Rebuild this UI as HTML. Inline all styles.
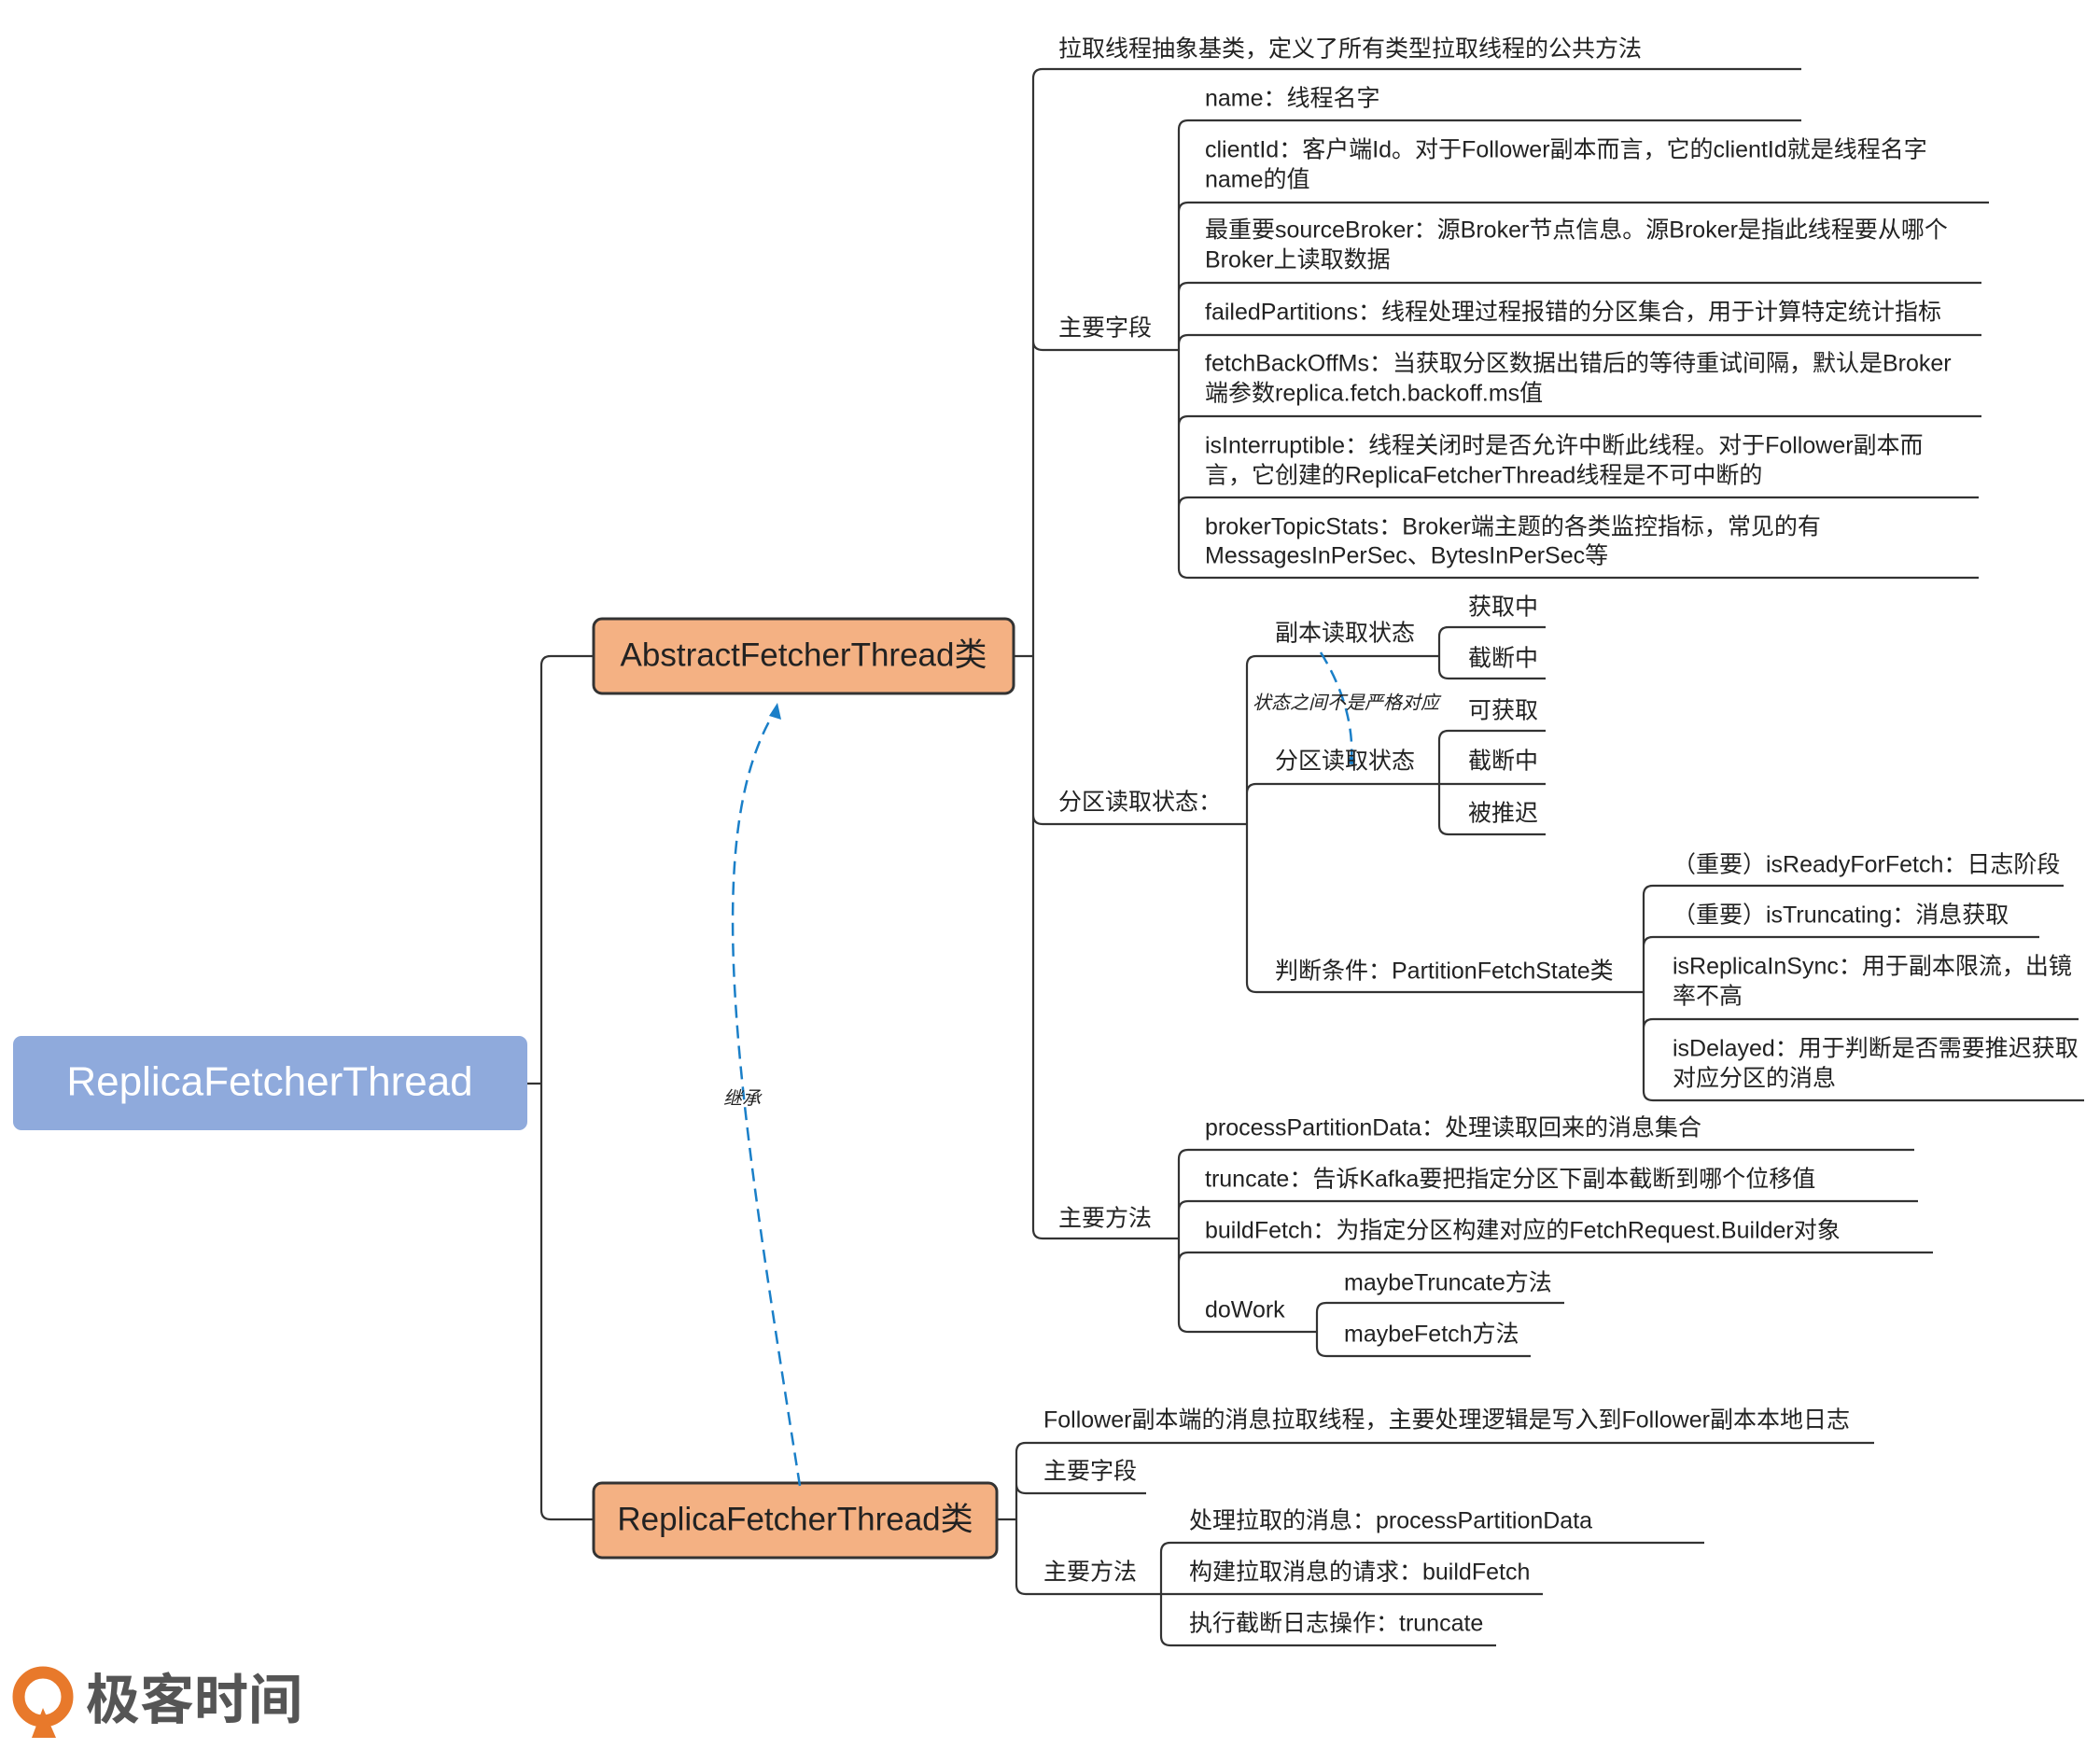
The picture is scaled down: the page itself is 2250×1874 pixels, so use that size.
<!DOCTYPE html>
<html><head><meta charset="utf-8">
<style>
html,body{margin:0;padding:0;background:#fff;}
svg{display:block;}
text{font-family:"Liberation Sans","Noto Sans CJK SC",sans-serif;font-size:25px;fill:#222;dominant-baseline:middle;}
</style></head>
<body>
<svg width="2250" height="1874" viewBox="0 0 2250 1874" xmlns="http://www.w3.org/2000/svg">
<g transform="translate(-5,-1)">
<g fill="none" stroke="#333" stroke-width="2.2">
<path d="M570 1162 H585 M595 704 H640 M595 1629 H640 M585 1162 V714 Q585 704 595 704 M585 1162 V1619 Q585 1629 595 1629"/>
<path d="M1092 704 H1112 M1112 85 V1318 M1112 85 Q1112 75 1122 75 H1935 M1112 366 Q1112 376 1122 376 H1268 M1112 874 Q1112 884 1122 884 H1341 M1112 1318 Q1112 1328 1122 1328 H1268"/>
<path d="M1268 140 V610 M1268 140 Q1268 130 1278 130 H1935 M1268 228 Q1268 218 1278 218 H2136 M1268 314 Q1268 304 1278 304 H2128 M1268 370 Q1268 360 1278 360 H2128 M1268 457 Q1268 447 1278 447 H2128 M1268 544 Q1268 534 1278 534 H2125 M1268 610 Q1268 620 1278 620 H2125"/>
<path d="M1341 714 V1054 M1341 714 Q1341 704 1351 704 H1547 M1341 851 Q1341 841 1351 841 H1547 M1341 1054 Q1341 1064 1351 1064 H1766"/>
<path d="M1547 683 V718 M1547 683 Q1547 673 1557 673 H1661 M1547 718 Q1547 728 1557 728 H1661"/>
<path d="M1547 794 V885 M1547 794 Q1547 784 1557 784 H1661 M1547 841 H1661 M1547 885 Q1547 895 1557 895 H1661"/>
<path d="M1766 960 V1170 M1766 960 Q1766 950 1776 950 H2216 M1766 1015 Q1766 1005 1776 1005 H2190 M1766 1103 Q1766 1093 1776 1093 H2232 M1766 1170 Q1766 1180 1776 1180 H2238"/>
<path d="M1268 1243 V1418 M1268 1243 Q1268 1233 1278 1233 H2056 M1268 1298 Q1268 1288 1278 1288 H2060 M1268 1353 Q1268 1343 1278 1343 H2076 M1268 1418 Q1268 1428 1278 1428 H1416"/>
<path d="M1416 1407 V1444 M1416 1407 Q1416 1397 1426 1397 H1681 M1416 1444 Q1416 1454 1426 1454 H1645"/>
<path d="M1074 1629 H1094 M1094 1557 V1699 M1094 1557 Q1094 1547 1104 1547 H2013 M1094 1591 Q1094 1601 1104 1601 H1233 M1094 1699 Q1094 1709 1104 1709 H1249"/>
<path d="M1249 1664 V1754 M1249 1664 Q1249 1654 1259 1654 H1831 M1249 1709 H1658 M1249 1754 Q1249 1764 1259 1764 H1608"/>
</g>
<rect x="19" y="1111" width="551" height="101" rx="9" fill="#8faadc"/>
<text x="294" y="1163" text-anchor="middle" style="font-size:44px;fill:#fff">ReplicaFetcherThread</text>
<rect x="641" y="664" width="450" height="80" rx="9" fill="#f4b183" stroke="#333" stroke-width="3"/>
<text x="866" y="705" text-anchor="middle" style="font-size:35px">AbstractFetcherThread类</text>
<rect x="641" y="1590" width="432" height="80" rx="9" fill="#f4b183" stroke="#333" stroke-width="3"/>
<text x="857" y="1631" text-anchor="middle" style="font-size:35px">ReplicaFetcherThread类</text>
<g fill="none" stroke="#1a7fc8" stroke-width="2.5" stroke-dasharray="14 8">
<path d="M862 1593 C800 1200 750 900 836 762"/>
<path d="M1420 700 C1445 740 1455 780 1453 814"/>
</g>
<path d="M838 754 L842 772 L829 768 Z" fill="#1a7fc8"/>
<circle cx="1453" cy="816" r="4" fill="#1a7fc8"/>
<text x="800" y="1179" text-anchor="middle" style="font-size:20px;font-style:italic">继承</text>
<text x="1347" y="755" style="font-size:20px;font-style:italic">状态之间不是严格对应</text>
<text x="1139" y="55">拉取线程抽象基类，定义了所有类型拉取线程的公共方法</text>
<text x="1139" y="354">主要字段</text>
<text x="1296" y="108">name：线程名字</text>
<text x="1296" y="163">clientId：客户端Id。对于Follower副本而言，它的clientId就是线程名字</text>
<text x="1296" y="195">name的值</text>
<text x="1296" y="249">最重要sourceBroker：源Broker节点信息。源Broker是指此线程要从哪个</text>
<text x="1296" y="281">Broker上读取数据</text>
<text x="1296" y="337">failedPartitions：线程处理过程报错的分区集合，用于计算特定统计指标</text>
<text x="1296" y="392">fetchBackOffMs：当获取分区数据出错后的等待重试间隔，默认是Broker</text>
<text x="1296" y="424">端参数replica.fetch.backoff.ms值</text>
<text x="1296" y="480">isInterruptible：线程关闭时是否允许中断此线程。对于Follower副本而</text>
<text x="1296" y="512">言，它创建的ReplicaFetcherThread线程是不可中断的</text>
<text x="1296" y="567">brokerTopicStats：Broker端主题的各类监控指标，常见的有</text>
<text x="1296" y="598">MessagesInPerSec、BytesInPerSec等</text>
<text x="1139" y="862">分区读取状态：</text>
<text x="1371" y="681">副本读取状态</text>
<text x="1578" y="653">获取中</text>
<text x="1578" y="708">截断中</text>
<text x="1371" y="818">分区读取状态</text>
<text x="1578" y="764">可获取</text>
<text x="1578" y="818">截断中</text>
<text x="1578" y="874">被推迟</text>
<text x="1371" y="1043">判断条件：PartitionFetchState类</text>
<text x="1797" y="929">（重要）isReadyForFetch：日志阶段</text>
<text x="1797" y="983">（重要）isTruncating：消息获取</text>
<text x="1797" y="1038">isReplicaInSync：用于副本限流，出镜</text>
<text x="1797" y="1070">率不高</text>
<text x="1797" y="1126">isDelayed：用于判断是否需要推迟获取</text>
<text x="1797" y="1158">对应分区的消息</text>
<text x="1139" y="1308">主要方法</text>
<text x="1296" y="1211">processPartitionData：处理读取回来的消息集合</text>
<text x="1296" y="1266">truncate：告诉Kafka要把指定分区下副本截断到哪个位移值</text>
<text x="1296" y="1321">buildFetch：为指定分区构建对应的FetchRequest.Builder对象</text>
<text x="1296" y="1406">doWork</text>
<text x="1445" y="1377">maybeTruncate方法</text>
<text x="1445" y="1432">maybeFetch方法</text>
<text x="1123" y="1524">Follower副本端的消息拉取线程，主要处理逻辑是写入到Follower副本本地日志</text>
<text x="1123" y="1579">主要字段</text>
<text x="1123" y="1687">主要方法</text>
<text x="1279" y="1632">处理拉取的消息：processPartitionData</text>
<text x="1279" y="1687">构建拉取消息的请求：buildFetch</text>
<text x="1279" y="1742">执行截断日志操作：truncate</text>
</g>
<circle cx="46" cy="1818" r="26" fill="none" stroke="#e8792b" stroke-width="13"/>
<path d="M46 1830 L60 1862 L34 1862 Z" fill="#e8792b"/>
<text x="92" y="1826" style="font-size:58px;fill:#555;font-weight:bold">极客时间</text>
</svg>
</body></html>
